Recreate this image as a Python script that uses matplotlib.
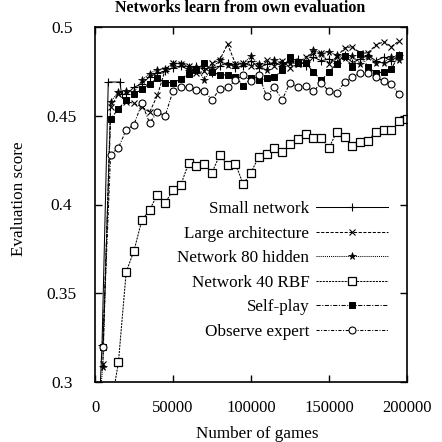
import matplotlib
matplotlib.use("Agg")
import matplotlib.pyplot as plt

plt.rcParams['font.family'] = ['Liberation Serif', 'DejaVu Serif']

# ---------------- data (games in thousands) ----------------
steps = list(range(5, 200, 5))  # 5k .. 195k

small_x = [3, 4.5, 8.5, 16, 17] + list(range(20, 200, 5))
small_y = [0.290, 0.321, 0.469, 0.469, 0.462,
           0.462, 0.466, 0.468, 0.472, 0.474, 0.475, 0.477, 0.478, 0.476, 0.478,
           0.477, 0.474, 0.478, 0.480, 0.477, 0.478, 0.481, 0.477, 0.479, 0.480,
           0.478, 0.481, 0.482, 0.478, 0.483, 0.481, 0.482, 0.480, 0.484, 0.480,
           0.482, 0.484, 0.481, 0.483, 0.481, 0.484]

large_y = [0.310, 0.455, 0.462, 0.458, 0.457, 0.455, 0.452, 0.4615, 0.476, 0.4798,
           0.4794, 0.478, 0.474, 0.475, 0.4795, 0.4815, 0.4903, 0.4794, 0.4798, 0.478,
           0.478, 0.4814, 0.478, 0.481, 0.477, 0.479, 0.4832, 0.4851, 0.4856, 0.4794,
           0.4832, 0.4883, 0.4889, 0.4851, 0.4855, 0.4898, 0.4917, 0.489, 0.4922]

hidden80_x = [3] + steps
hidden80_y = [0.290, 0.3085, 0.458, 0.4633, 0.4637, 0.4633, 0.470, 0.4738, 0.476, 0.4766, 0.4794,
              0.4794, 0.4775, 0.4775, 0.4704, 0.477, 0.4813, 0.4785, 0.4785, 0.4794, 0.4836,
              0.479, 0.4756, 0.4813, 0.480, 0.4798, 0.4794, 0.480, 0.487, 0.485, 0.486,
              0.4841, 0.4823, 0.4836, 0.4794, 0.4832, 0.480, 0.480, 0.4832, 0.4813]

rbf_x = list(range(10, 210, 5))
rbf_y = [0.285, 0.311, 0.362, 0.374, 0.391, 0.397, 0.4055, 0.401, 0.408, 0.411,
         0.4233, 0.4216, 0.4228, 0.418, 0.428, 0.422, 0.423, 0.4114, 0.418, 0.427,
         0.4284, 0.432, 0.4293, 0.434, 0.437, 0.4398, 0.4373, 0.4373, 0.432, 0.441,
         0.438, 0.433, 0.435, 0.436, 0.441, 0.442, 0.442, 0.447, 0.448, 0.449]

self_y = [0.320, 0.448, 0.454, 0.4586, 0.462, 0.465, 0.468, 0.471, 0.4687, 0.4687,
          0.4705, 0.4738, 0.4756, 0.4798, 0.4747, 0.473, 0.473, 0.4718, 0.467, 0.471,
          0.470, 0.471, 0.4718, 0.4756, 0.4832, 0.480, 0.4798, 0.4747, 0.470, 0.4747,
          0.4794, 0.4836, 0.4775, 0.485, 0.4775, 0.474, 0.4747, 0.4766, 0.4841]

expert_y = [0.320, 0.428, 0.432, 0.442, 0.445, 0.457, 0.446, 0.452, 0.450, 0.464,
            0.466, 0.466, 0.4647, 0.464, 0.459, 0.465, 0.466, 0.470, 0.473, 0.4694,
            0.473, 0.461, 0.466, 0.459, 0.4686, 0.466, 0.4665, 0.4637, 0.4686, 0.4637,
            0.4628, 0.469, 0.472, 0.474, 0.474, 0.472, 0.4694, 0.4677, 0.462]

labels = ["Small network", "Large architecture", "Network 80 hidden",
          "Network 40 RBF", "Self-play", "Observe expert"]
xticks = [0, 50000, 100000, 150000, 200000]
yticks = [0.3, 0.35, 0.4, 0.45, 0.5]

K = 1000
fig = plt.figure(figsize=(4.42, 4.42), dpi=100)
ax = fig.add_axes([95/442, 1-382/442, (407-95)/442, (382-27)/442])

lw = 0.75
c = 'black'
ax.plot([v*K for v in small_x], small_y, '-', color=c, lw=lw, marker='+', ms=6, mew=0.8, label=labels[0])
ax.plot([v*K for v in steps], large_y, color=c, lw=lw, ls=(0, (3, 1.5)), marker='x', ms=4.5, mew=0.8, label=labels[1])
ax.plot([v*K for v in hidden80_x], hidden80_y, color=c, lw=lw, ls=(0, (1, 1)), marker='*', ms=5.5, mew=0.5, label=labels[2])
ax.plot([v*K for v in rbf_x], rbf_y, color=c, lw=lw, ls=(0, (2, 1)), marker='s', ms=5.5, mfc='white', mew=0.9, label=labels[3])
ax.plot([v*K for v in steps], self_y, color=c, lw=lw, ls=(0, (4, 1.5, 1, 1.5)), marker='s', ms=5, mfc='black', mew=0.7, label=labels[4])
ax.plot([v*K for v in steps], expert_y, color=c, lw=lw, ls=(0, (3, 1.5, 1, 1.5)), marker='o', ms=5, mfc='white', mew=0.8, label=labels[5])

ax.set_xlim(0, 200000)
ax.set_ylim(0.3, 0.5)
ax.set_xticks(xticks)
ax.set_xticklabels([str(v) for v in xticks])
ax.set_yticks(yticks)
ax.set_yticklabels([f"{v:g}" for v in yticks])
ax.tick_params(direction='in', length=5, width=1, top=True, right=True, labelsize=12)
ax.tick_params(axis='x', pad=13)
ax.tick_params(axis='y', pad=24, labelsize=12.5)
for t in ax.get_yticklabels():
    t.set_ha('center')
for s in ax.spines.values():
    s.set_linewidth(1.2)

leg = ax.legend(loc='upper right', bbox_to_anchor=(388/442, 1-201/442), bbox_transform=fig.transFigure,
                frameon=False, markerfirst=False, fontsize=12.3, handlelength=4.2,
                labelspacing=0.5, borderpad=0, borderaxespad=0, handletextpad=0.4)

fig.text(19/442, 1-199/442, "Evaluation score", rotation=90, ha='center', va='center', fontsize=12.3)
fig.text(257/442, 1-434/442, "Number of games", ha='center', va='center', fontsize=12.3)
fig.text(240/442, 1-12/442, "Networks learn from own evaluation", ha='center', va='baseline',
         fontsize=11.5, fontweight='bold')

fig.savefig("out.png", dpi=100)
